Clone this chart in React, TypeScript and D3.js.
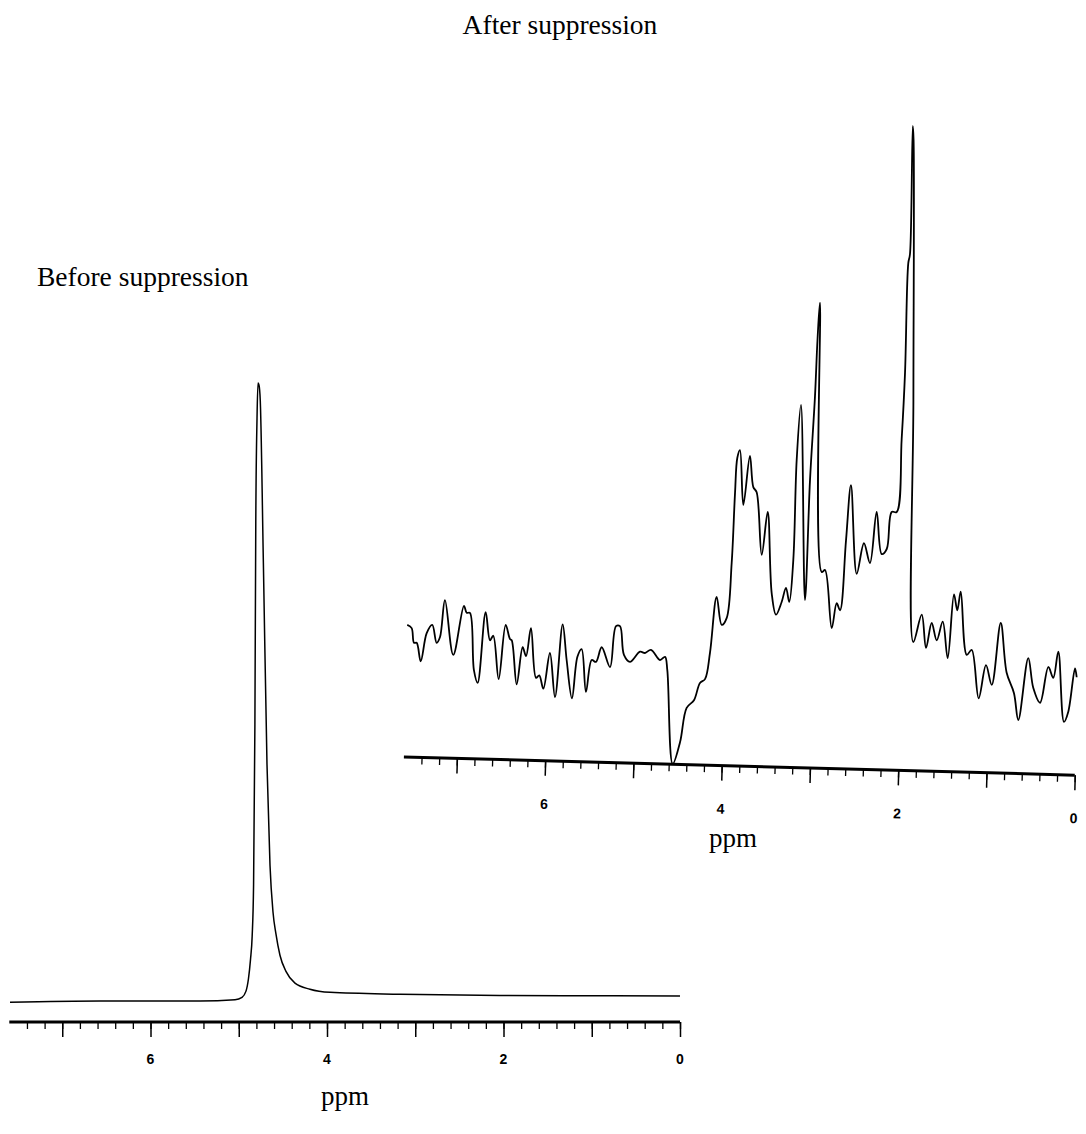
import React, { useRef, useEffect } from "react";
import * as d3 from "d3";

// "Before suppression" spectrum (ppm, relative intensity)
const beforePpm = [
  7.592, 6.572, 5.439, 5.042, 4.963, 4.918, 4.89, 4.867, 4.848, 4.832, 4.817, 4.807, 4.793, 4.782,
  4.771, 4.756, 4.721, 4.68, 4.646, 4.612, 4.579, 4.533, 4.465, 4.363, 4.193, 3.966, 3.173, 2.04,
  0.907, 0,
];
const beforeIntensity = [
  -0.2, 0, 0, 0.2, 0.6, 1.6, 3.6, 6.7, 10.5, 18.8, 44.8, 77.5, 94.3, 100, 99.7, 97.1, 70.9, 38.3,
  22.0, 14.4, 10.9, 7.4, 4.8, 2.9, 1.9, 1.4, 1.1, 0.9, 0.85, 0.8,
];

// "After suppression" spectrum
const afterPpm = [
  7.562, 7.512, 7.486, 7.455, 7.41, 7.342, 7.279, 7.229, 7.191, 7.135, 7.041, 6.92, 6.889, 6.852,
  6.807, 6.765, 6.674, 6.625, 6.588, 6.527, 6.447, 6.399, 6.379, 6.323, 6.255, 6.217, 6.161, 6.104,
  6.067, 6.021, 5.946, 5.889, 5.802, 5.757, 5.697, 5.635, 5.587, 5.538, 5.473, 5.425, 5.36, 5.266,
  5.198, 5.153, 5.108, 5.04, 4.926, 4.87, 4.802, 4.7, 4.643, 4.617, 4.556, 4.473, 4.398, 4.315,
  4.247, 4.19, 4.134, 4.058, 4.001, 3.944, 3.888, 3.85, 3.824, 3.794, 3.756, 3.681, 3.643, 3.605,
  3.548, 3.48, 3.435, 3.386, 3.322, 3.273, 3.236, 3.19, 3.152, 3.103, 3.058, 3.001, 2.945, 2.916,
  2.888, 2.869, 2.831, 2.755, 2.699, 2.661, 2.593, 2.537, 2.472, 2.39, 2.322, 2.246, 2.189, 2.132,
  2.076, 2.019, 1.963, 1.925, 1.888, 1.869, 1.837, 1.828, 1.83, 1.831, 1.736, 1.687, 1.623, 1.566,
  1.498, 1.442, 1.37, 1.333, 1.294, 1.226, 1.17, 1.091, 1.008, 0.943, 0.841, 0.774, 0.691, 0.642,
  0.529, 0.472, 0.396, 0.302, 0.246, 0.189, 0.125, 0.076, 0.0, -0.019,
];
const afterIntensity = [
  21.8, 21.3, 19.0, 19.0, 16.1, 20.5, 21.8, 19.0, 19.9, 25.7, 17.1, 24.8, 23.7, 23.7,
  14.7, 12.7, 23.8, 19.4, 20.1, 13.3, 21.8, 19.6, 19.4, 12.5, 18.3, 16.9, 21.3, 13.5,
  13.9, 11.8, 17.4, 10.5, 21.9, 16.3, 10.3, 16.8, 18.0, 11.3, 16.3, 16.0, 18.3, 15.2,
  21.6, 21.6, 17.1, 16.0, 17.6, 17.4, 17.9, 16.3, 16.8, 14.7, 0, 3.4, 8.8, 10.0,
  12.7, 13.3, 17.4, 26.2, 21.8, 22.9, 31.5, 42.5, 48.0, 49.2, 40.6, 48.3, 43.4, 42.6,
  32.8, 39.5, 26.8, 23.4, 25.4, 27.6, 25.4, 32.0, 47.6, 56.3, 25.7, 44.5, 57.5, 66.5,
  72.3, 30.1, 30.4, 21.3, 25.2, 24.1, 35.1, 43.7, 29.8, 34.6, 31.5, 39.5, 32.9, 33.7,
  39.5, 39.5, 50.9, 61.3, 78.5, 79.9, 100, 97.8, 57.1, 19.1, 23.4, 18.2, 22.1, 19.4,
  22.3, 16.6, 26.6, 24.1, 27.0, 17.1, 17.9, 10.3, 15.5, 12.4, 22.1, 14.3, 11.1, 6.9,
  16.6, 11.9, 9.6, 15.2, 13.5, 17.6, 6.6, 8.2, 15.0, 13.6,
];

const labelTicks = [6, 4, 2, 0];
const minorTicks = d3.range(0, 38).map((i) => +(i * 0.2).toFixed(1));
const majorTicks = [0, 1, 2, 3, 4, 5, 6, 7];

const App = () => {
  const svgRef = useRef(null);

  useEffect(() => {
    const svg = d3.select(svgRef.current);
    svg.selectAll("*").remove();

    const serif = "'Liberation Serif', 'Times New Roman', serif";
    const sans = "'Liberation Sans', Arial, sans-serif";

    // ticks + labels under a horizontal axis, local coordinates
    const drawAxis = (g, x, labelY) => {
      g.append("line")
        .attr("x1", x(7.6))
        .attr("x2", x(0))
        .attr("y1", 0)
        .attr("y2", 0)
        .attr("stroke", "#000")
        .attr("stroke-width", 3);

      g.append("g")
        .call(d3.axisBottom(x).tickValues(minorTicks).tickSize(7).tickFormat(() => ""))
        .call((a) => a.select(".domain").remove())
        .selectAll("line")
        .attr("stroke-width", 1.3);

      g.append("g")
        .call(d3.axisBottom(x).tickValues(majorTicks).tickSize(15).tickFormat(() => ""))
        .call((a) => a.select(".domain").remove())
        .selectAll("line")
        .attr("stroke-width", 1.5);

      g.selectAll(".lbl")
        .data(labelTicks)
        .enter()
        .append("text")
        .attr("x", (d) => x(d))
        .attr("y", labelY)
        .attr("text-anchor", "middle")
        .attr("font-family", sans)
        .attr("font-weight", "bold")
        .attr("font-size", 14)
        .text((d) => d);
    };

    // ---- Before suppression ----
    const xB = d3.scaleLinear().domain([7.6, 0]).range([9.3, 680]);
    const yB = d3.scaleLinear().domain([0, 100]).range([1001, 383]);
    const before = beforePpm.map((p, i) => [p, beforeIntensity[i]]);

    svg
      .append("path")
      .datum(before)
      .attr("fill", "none")
      .attr("stroke", "#000")
      .attr("stroke-width", 1.5)
      .attr("d", d3.line().x((d) => xB(d[0])).y((d) => yB(d[1])).curve(d3.curveMonotoneX));

    drawAxis(svg.append("g").attr("transform", "translate(0,1022)"), xB, 42);

    svg
      .append("text")
      .attr("x", 345)
      .attr("y", 1105)
      .attr("text-anchor", "middle")
      .attr("font-family", serif)
      .attr("font-size", 27)
      .text("ppm");

    svg
      .append("text")
      .attr("x", 37)
      .attr("y", 286)
      .attr("font-family", serif)
      .attr("font-size", 27.5)
      .text("Before suppression");

    // ---- After suppression ----
    const xA = d3.scaleLinear().domain([7.6, 0]).range([403.9, 1075]);
    const yA = d3.scaleLinear().domain([0, 100]).range([764, 126]);
    const after = afterPpm.map((p, i) => [p, afterIntensity[i]]);

    svg
      .append("path")
      .datum(after)
      .attr("fill", "none")
      .attr("stroke", "#000")
      .attr("stroke-width", 1.8)
      .attr("stroke-linejoin", "round")
      .attr("d", d3.line().x((d) => xA(d[0])).y((d) => yA(d[1])).curve(d3.curveCatmullRom.alpha(0.5)));

    // the plotted axis is slightly skewed in the original
    const xAl = d3.scaleLinear().domain([7.6, 0]).range([0, 1075 - 403.9]);
    drawAxis(svg.append("g").attr("transform", "translate(403.9,757) rotate(1.55)"), xAl, 48);

    svg
      .append("text")
      .attr("x", 733)
      .attr("y", 847)
      .attr("text-anchor", "middle")
      .attr("font-family", serif)
      .attr("font-size", 27)
      .text("ppm");

    svg
      .append("text")
      .attr("x", 560)
      .attr("y", 34)
      .attr("text-anchor", "middle")
      .attr("font-family", serif)
      .attr("font-size", 27.5)
      .text("After suppression");
  }, []);

  return (
    <svg
      ref={svgRef}
      width={1086}
      height={1134}
      style={{ position: "absolute", left: 0, top: 0, background: "#fff" }}
    ></svg>
  );
};

export default App;
